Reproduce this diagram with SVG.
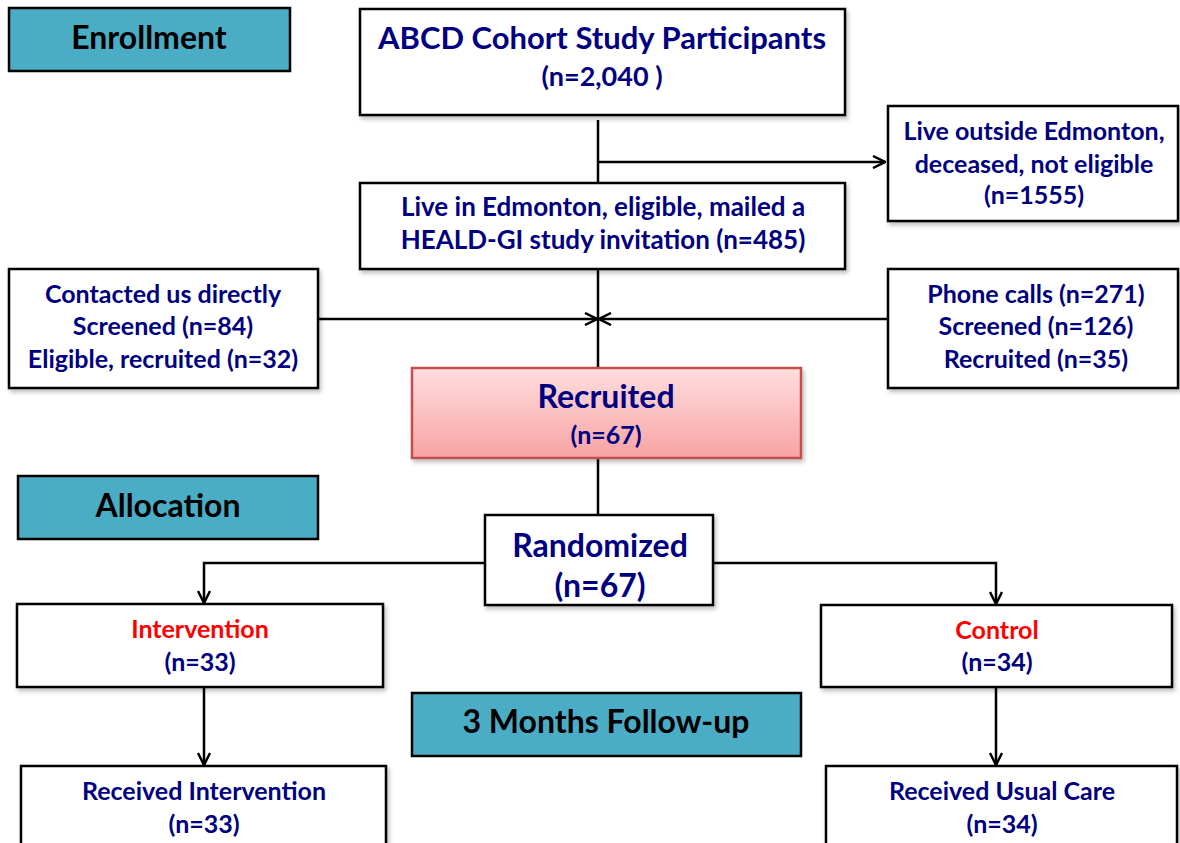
<svg xmlns="http://www.w3.org/2000/svg" width="1180" height="843" viewBox="0 0 1180 843">
<style>
.box{fill:#fff;stroke:#000;stroke-width:2.5}
.hdr{fill:#4BACC6;stroke:#000;stroke-width:2.5}
.t{font-family:Lato,"Liberation Sans",sans-serif;font-weight:bold;text-anchor:middle;fill:#000080}
.h{font-family:Lato,"Liberation Sans",sans-serif;font-weight:bold;text-anchor:middle;fill:#000;font-size:32px}
.red{fill:#FF0000}
.ln{fill:none;stroke:#000;stroke-width:2.5}
</style>
<defs>
<marker id="ah" viewBox="0 0 14 14" refX="13" refY="7" markerWidth="14" markerHeight="14" markerUnits="userSpaceOnUse" orient="auto">
<path d="M1,1 L13,7 L1,13" fill="none" stroke="#000" stroke-width="2.5"/>
</marker>
<linearGradient id="pink" x1="0" y1="0" x2="0" y2="1">
<stop offset="0" stop-color="#FFDEDE"/>
<stop offset="1" stop-color="#F8A3A3"/>
</linearGradient>
<filter id="sh" x="-5%" y="-5%" width="115%" height="125%">
<feDropShadow dx="2" dy="3" stdDeviation="2" flood-color="#000" flood-opacity="0.25"/>
</filter>
</defs>
<rect width="1180" height="843" fill="#fff"/>
<g id="connectors">
<path class="ln" d="M598,120 V183"/>
<path class="ln" d="M598,162 H885" marker-end="url(#ah)"/>
<path class="ln" d="M598,269 V368"/>
<path class="ln" d="M318,319 H597" marker-end="url(#ah)"/>
<path class="ln" d="M888,319 H599" marker-end="url(#ah)"/>
<path class="ln" d="M598,458 V515"/>
<path class="ln" d="M485,563 H204 V603" marker-end="url(#ah)"/>
<path class="ln" d="M713,563 H996 V604" marker-end="url(#ah)"/>
<path class="ln" d="M204,687 V765" marker-end="url(#ah)"/>
<path class="ln" d="M996,687 V765" marker-end="url(#ah)"/>
</g>
<g id="enrollment">
<rect class="hdr" x="9" y="8" width="281" height="63"/>
<text class="h" x="149" y="49">Enrollment</text>
</g>
<g id="abcd">
<rect class="box" x="360" y="9" width="485" height="106" filter="url(#sh)"/>
<text class="t" x="602" y="49" font-size="31">ABCD Cohort Study Participants</text>
<text class="t" x="602" y="86" font-size="27">(n=2,040 )</text>
</g>
<g id="outside">
<rect class="box" x="888" y="106" width="290" height="115" filter="url(#sh)"/>
<text class="t" x="1034" y="140" font-size="25">Live outside Edmonton,</text>
<text class="t" x="1034" y="173" font-size="25">deceased, not eligible</text>
<text class="t" x="1034" y="204" font-size="25">(n=1555)</text>
</g>
<g id="edmonton">
<rect class="box" x="360" y="183" width="485" height="86" filter="url(#sh)"/>
<text class="t" x="603" y="216" font-size="26">Live in Edmonton, eligible, mailed a</text>
<text class="t" x="603" y="249" font-size="26">HEALD-GI study invitation (n=485)</text>
</g>
<g id="contacted">
<rect class="box" x="9" y="269" width="309" height="119" filter="url(#sh)"/>
<text class="t" x="163" y="303" font-size="25">Contacted us directly</text>
<text class="t" x="163" y="335" font-size="25">Screened (n=84)</text>
<text class="t" x="163" y="368" font-size="25">Eligible, recruited (n=32)</text>
</g>
<g id="phone">
<rect class="box" x="888" y="269" width="290" height="119" filter="url(#sh)"/>
<text class="t" x="1036" y="303" font-size="25">Phone calls (n=271)</text>
<text class="t" x="1036" y="335" font-size="25">Screened (n=126)</text>
<text class="t" x="1036" y="368" font-size="25">Recruited (n=35)</text>
</g>
<g id="recruited">
<rect x="412" y="368" width="389" height="90" fill="url(#pink)" stroke="#C0504D" stroke-width="2.5" filter="url(#sh)"/>
<text class="t" x="606" y="408" font-size="32">Recruited</text>
<text class="t" x="606" y="444" font-size="25">(n=67)</text>
</g>
<g id="allocation">
<rect class="hdr" x="18" y="476" width="300" height="63"/>
<text class="h" x="168" y="517">Allocation</text>
</g>
<g id="randomized">
<rect class="box" x="485" y="515" width="228" height="90" filter="url(#sh)"/>
<text class="t" x="600" y="557" font-size="32">Randomized</text>
<text class="t" x="600" y="597" font-size="32">(n=67)</text>
</g>
<g id="intervention">
<rect class="box" x="17" y="604" width="366" height="83" filter="url(#sh)"/>
<text class="t red" x="200" y="638" font-size="25">Intervention</text>
<text class="t" x="200" y="671" font-size="25">(n=33)</text>
</g>
<g id="control">
<rect class="box" x="821" y="605" width="351" height="82" filter="url(#sh)"/>
<text class="t red" x="997" y="639" font-size="25">Control</text>
<text class="t" x="997" y="671" font-size="25">(n=34)</text>
</g>
<g id="followup">
<rect class="hdr" x="412" y="693" width="389" height="63"/>
<text class="h" x="606" y="733">3 Months Follow-up</text>
</g>
<g id="received-intervention">
<rect class="box" x="21" y="766" width="365" height="90" filter="url(#sh)"/>
<text class="t" x="204" y="800" font-size="25">Received Intervention</text>
<text class="t" x="204" y="833" font-size="25">(n=33)</text>
</g>
<g id="received-usual">
<rect class="box" x="826" y="766" width="351" height="90" filter="url(#sh)"/>
<text class="t" x="1002" y="800" font-size="25">Received Usual Care</text>
<text class="t" x="1002" y="833" font-size="25">(n=34)</text>
</g>
</svg>
